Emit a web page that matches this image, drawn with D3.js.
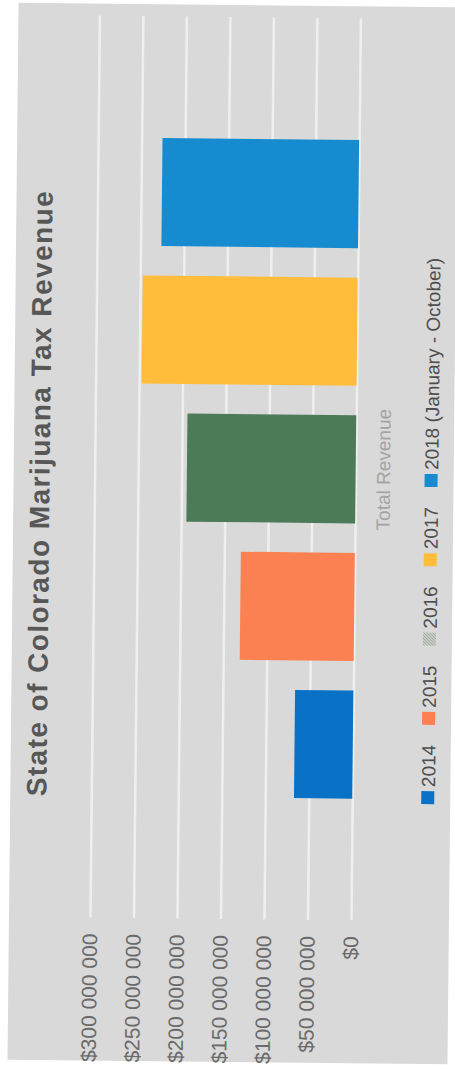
<!DOCTYPE html>
<html>
<head>
<meta charset="utf-8">
<script src="https://cdn.jsdelivr.net/npm/d3@7"></script>
<style>
  html, body { margin: 0; padding: 0; background: #ffffff; }
  svg { display: block; }
</style>
</head>
<body>
<svg id="chart" width="455" height="1069"></svg>
<script>
// Revenue by year (USD)
const categories = ["Total Revenue"];
const seriesNames = ["2014", "2015", "2016", "2017", "2018 (January - October)"];
const seriesValues = [67000000, 131000000, 194000000, 247000000, 226000000];
const seriesColors = ["#0a72c6", "#fb8153", "#4d7b59", "#ffbd3b", "#178bcf"];
const tickValues = [0, 50000000, 100000000, 150000000, 200000000, 250000000, 300000000];
const tickLabels = ["$0", "$50 000 000", "$100 000 000", "$150 000 000", "$200 000 000", "$250 000 000", "$300 000 000"];
const titleText = "State of Colorado Marijuana Tax Revenue";

const PAGE_W = 455, PAGE_H = 1069;

const svg = d3.select("#chart");

const defs = svg.append("defs");
const hatch = defs.append("pattern")
  .attr("id", "hatch16")
  .attr("patternUnits", "userSpaceOnUse")
  .attr("width", 3).attr("height", 3);
hatch.append("rect").attr("width", 3).attr("height", 3).attr("fill", "#c9cec9");
hatch.append("path").attr("d", "M0,3 L3,0").attr("stroke", "#9ea59e").attr("stroke-width", 1);

const page = svg.append("g")
  .attr("transform", `rotate(0.6, ${PAGE_W / 2}, ${PAGE_H / 2})`);

// The chart is laid out in a landscape frame, then turned a quarter turn on the page.
const frame = page.append("g")
  .attr("transform", `translate(0, ${PAGE_H}) rotate(-90)`);

// chart background panel
frame.append("rect")
  .attr("x", 7).attr("y", 13)
  .attr("width", 1057).attr("height", 440)
  .attr("fill", "#d9d9d9");

const plot = { left: 150, right: 1052, top: 94, bottom: 355 };

const y = d3.scaleLinear()
  .domain([0, 300000000])
  .range([plot.bottom, plot.top]);

const x0 = d3.scaleBand()
  .domain(categories)
  .range([plot.left, plot.right])
  .paddingInner(0)
  .paddingOuter(0.1847);

const x1 = d3.scaleBand()
  .domain(seriesNames)
  .range([0, x0.bandwidth()])
  .paddingInner(0.2145)
  .paddingOuter(0);

// value axis with gridlines
const yAxis = d3.axisLeft(y)
  .tickValues(tickValues)
  .tickFormat((d, i) => tickLabels[i])
  .tickSize(-(plot.right - plot.left))
  .tickPadding(16);

const yG = frame.append("g")
  .attr("transform", `translate(${plot.left}, 0)`)
  .call(yAxis);
yG.select(".domain").remove();
yG.selectAll(".tick line")
  .attr("stroke", "#efefef")
  .attr("stroke-width", 2.5);
yG.selectAll(".tick text")
  .attr("fill", "#6a6a6a")
  .style("font-family", "'Liberation Sans', Arial, sans-serif")
  .style("font-size", "21px");

// bars
const group = frame.append("g")
  .selectAll("g")
  .data(categories)
  .join("g")
  .attr("transform", d => `translate(${x0(d)}, 0)`);

group.selectAll("rect")
  .data(() => seriesNames.map((name, i) => ({ name, value: seriesValues[i], color: seriesColors[i] })))
  .join("rect")
  .attr("x", d => x1(d.name))
  .attr("width", x1.bandwidth())
  .attr("y", d => y(d.value))
  .attr("height", d => y(0) - y(d.value))
  .attr("fill", d => d.color);

// category axis
const xAxis = d3.axisBottom(x0).tickSize(0).tickPadding(21);
const xG = frame.append("g")
  .attr("transform", `translate(0, ${plot.bottom})`)
  .call(xAxis);
xG.select(".domain").remove();
xG.selectAll(".tick text")
  .attr("fill", "#a3a3a3")
  .style("font-family", "'Liberation Sans', Arial, sans-serif")
  .style("font-size", "19px");

// title, spread to span the chart width above the plot
const title = frame.append("text")
  .attr("x", 574)
  .attr("y", 49)
  .attr("text-anchor", "middle")
  .attr("fill", "#575757")
  .style("font-family", "'Liberation Sans', Arial, sans-serif")
  .style("font-weight", "bold")
  .style("font-size", "28px")
  .text(titleText);
const titleLen = title.node().getComputedTextLength();
const titleTarget = 605;
if (titleLen < titleTarget) {
  title.style("letter-spacing", `${(titleTarget - titleLen) / (titleText.length - 1)}px`);
}

// legend
const legend = frame.append("g").attr("transform", "translate(267, 431)");
let cursor = 0;
seriesNames.forEach((name, i) => {
  legend.append("rect")
    .attr("x", cursor)
    .attr("y", -7)
    .attr("width", 13).attr("height", 13)
    .attr("fill", i === 2 ? "url(#hatch16)" : seriesColors[i]);
  cursor += 17;
  const t = legend.append("text")
    .attr("x", cursor)
    .attr("y", 0)
    .attr("dy", "0.35em")
    .attr("fill", "#4e4e4e")
    .style("font-family", "'Liberation Sans', Arial, sans-serif")
    .style("font-size", "19px")
    .text(name);
  cursor += t.node().getComputedTextLength() + 20;
});
</script>
</body>
</html>
